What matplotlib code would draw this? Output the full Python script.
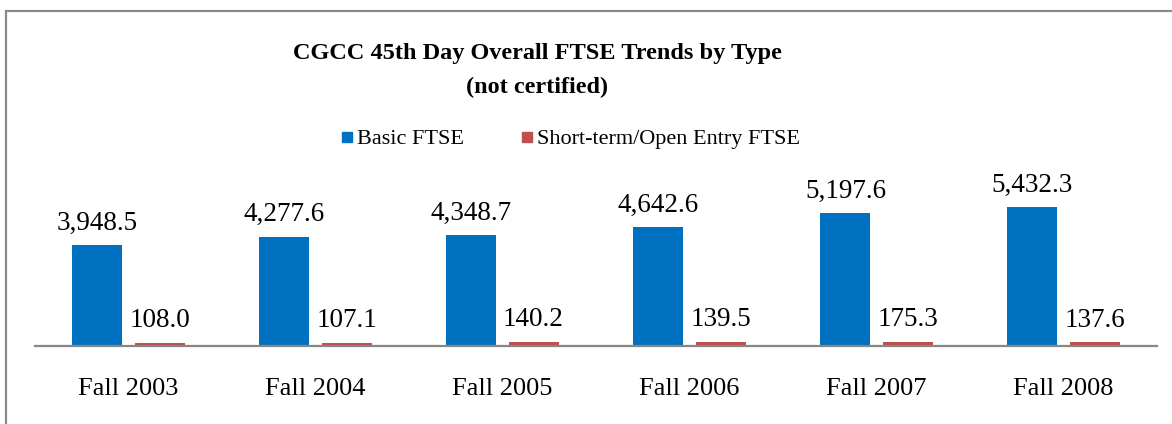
import matplotlib
matplotlib.use("Agg")
import matplotlib.pyplot as plt
from matplotlib.lines import Line2D
from matplotlib.patches import Rectangle

plt.rcParams['font.family'] = ['Liberation Serif', 'DejaVu Serif']

terms = ["Fall 2003", "Fall 2004", "Fall 2005", "Fall 2006", "Fall 2007", "Fall 2008"]
basic = [3948.5, 4277.6, 4348.7, 4642.6, 5197.6, 5432.3]
short_term = [108.0, 107.1, 140.2, 139.5, 175.3, 137.6]
series_names = ["Basic FTSE", "Short-term/Open Entry FTSE"]

blue = "#0070C0"
red = "#C0504D"

W, H = 1172, 424
fig = plt.figure(figsize=(W / 100, H / 100), dpi=100)

# frame around the chart (right and bottom run off the page)
fig.patches.append(Rectangle((6 / W, -0.2), 1.2, 1.2 - 11 / H,
                             transform=fig.transFigure, fill=False,
                             edgecolor="#8a8a8a", linewidth=1.6))

ax = fig.add_axes([35 / W, 78 / H, 1122 / W, (346 - 180) / H])

x = list(range(len(terms)))
bw = 0.267
off = 0.166
ax.bar([i - off for i in x], basic, bw, color=blue)
ax.bar([i + off for i in x], short_term, bw, color=red)

for i, v in enumerate(basic):
    ax.annotate(f"{v:,.1f}", (i - off, v), xytext=(0, 11), textcoords="offset points",
                ha="center", va="baseline", fontsize=19.5)
for i, v in enumerate(short_term):
    ax.annotate(f"{v:,.1f}", (i + off, v), xytext=(0, 11.5), textcoords="offset points",
                ha="center", va="baseline", fontsize=19.5)

ax.set_xlim(-0.5, len(terms) - 0.5)
ax.set_ylim(0, 6490)
ax.set_xticks(x)
ax.set_xticklabels(terms, fontsize=19)
ax.tick_params(axis="x", length=0, pad=23)
ax.set_yticks([])
for s in ["top", "right", "left"]:
    ax.spines[s].set_visible(False)
ax.spines["bottom"].set_color("#868686")
ax.spines["bottom"].set_linewidth(1.6)

fig.text(537 / W, 1 - 53 / H, "CGCC 45th Day Overall FTSE Trends by Type",
         ha="center", va="center", fontsize=17.5, fontweight="bold")
fig.text(537 / W, 1 - 87 / H, "(not certified)",
         ha="center", va="center", fontsize=17.5, fontweight="bold")

handles = [Line2D([], [], marker="s", linestyle="none", markersize=7.5, color=blue),
           Line2D([], [], marker="s", linestyle="none", markersize=7.5, color=red)]
fig.legend(handles, series_names, loc="center", bbox_to_anchor=(571 / W, 1 - 139 / H),
           ncol=2, frameon=False, fontsize=16, handlelength=0.45, handletextpad=0.23,
           columnspacing=2.6, borderaxespad=0, borderpad=0)

fig.savefig("out.png", dpi=100)
